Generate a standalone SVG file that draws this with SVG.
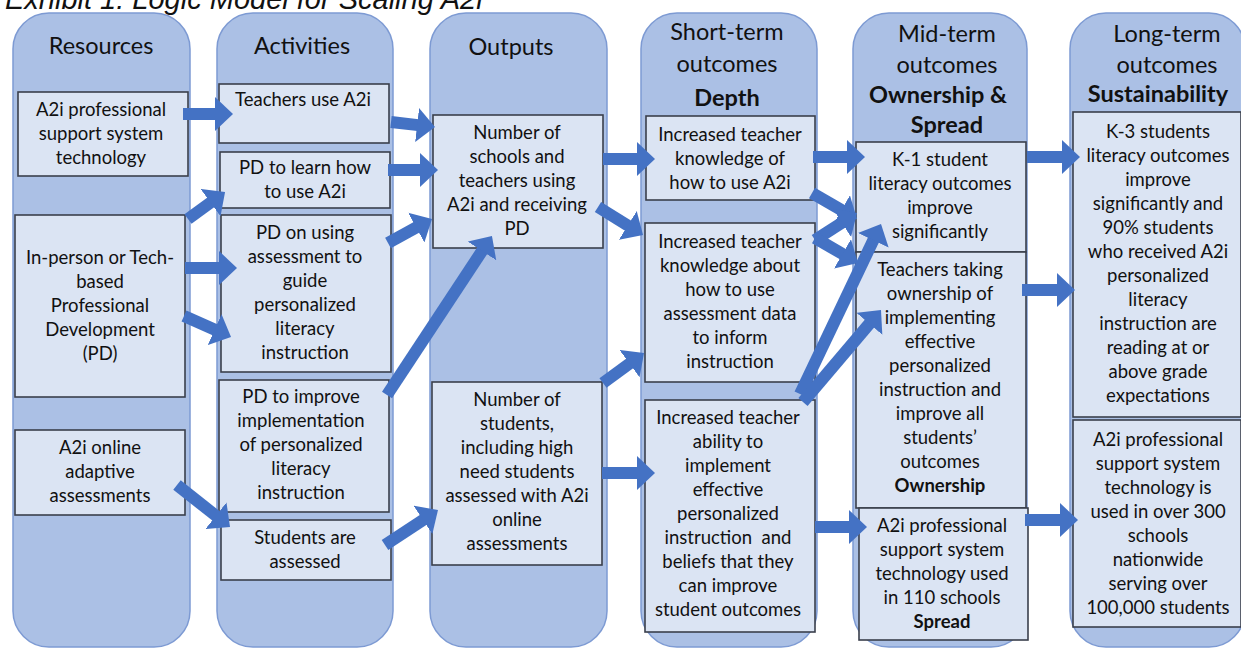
<svg xmlns="http://www.w3.org/2000/svg" width="1241" height="648" viewBox="0 0 1241 648">
  <defs>
    <style>
      .col { fill: #abc0e5; stroke: #7d9ad3; stroke-width: 1.5; }
      .box { fill: #dbe4f3; stroke: #3a3f4b; stroke-width: 1.6; }
      .t { font-family: Lato, "Open Sans", "Liberation Sans", sans-serif; font-size: 18.5px; fill: #111111; text-anchor: middle; }
      .h { font-size: 23.5px; }
      .b { font-weight: bold; }
      .title { font-family: "Liberation Sans", Arial, sans-serif; font-style: italic; font-size: 29px; fill: #111; }
      .conn line { stroke: #4472c4; stroke-width: 12; marker-end: url(#ah); }
    </style>
    <marker id="ah" markerUnits="userSpaceOnUse" markerWidth="18" markerHeight="34" viewBox="0 0 18 34" refX="1" refY="17" orient="auto">
      <path d="M0,0 L18,17 L0,34 z" fill="#4472c4"/>
    </marker>
  </defs>

  <rect width="1241" height="648" fill="#ffffff"/>
  <text class="title" x="5" y="9">Exhibit 1: Logic Model for Scaling A2i</text>

  <!-- column backgrounds -->
  <g id="columns">
    <rect class="col" x="13" y="13" width="177" height="634" rx="36"/>
    <rect class="col" x="217" y="13" width="176" height="634" rx="36"/>
    <rect class="col" x="430" y="13" width="177" height="634" rx="36"/>
    <rect class="col" x="641" y="13" width="176" height="634" rx="36"/>
    <rect class="col" x="853" y="13" width="174" height="634" rx="36"/>
    <rect class="col" x="1070" y="13" width="175" height="634" rx="36"/>
  </g>

  <!-- column headings -->
  <g id="headings">
    <text class="t h" x="101" y="54">Resources</text>
    <text class="t h" x="302" y="54">Activities</text>
    <text class="t h" x="511" y="55">Outputs</text>
    <text class="t h" x="727" y="40">Short-term</text>
    <text class="t h" x="727" y="72">outcomes</text>
    <text class="t h b" x="727" y="106">Depth</text>
    <text class="t h" x="947" y="42">Mid-term</text>
    <text class="t h" x="947" y="73">outcomes</text>
    <text class="t h b" x="938" y="103">Ownership &amp;</text>
    <text class="t h b" x="947" y="133">Spread</text>
    <text class="t h" x="1167" y="42">Long-term</text>
    <text class="t h" x="1167" y="73">outcomes</text>
    <text class="t h b" x="1158" y="102">Sustainability</text>
  </g>

  <!-- Resources -->
  <g id="res-tech">
    <rect class="box" x="18" y="92" width="170" height="84"/>
    <text class="t"><tspan x="101" y="116">A2i professional</tspan><tspan x="101" y="140">support system</tspan><tspan x="101" y="164">technology</tspan></text>
  </g>
  <g id="res-pd">
    <rect class="box" x="15" y="215" width="170" height="182"/>
    <text class="t"><tspan x="100" y="264">In-person or Tech-</tspan><tspan x="100" y="288">based</tspan><tspan x="100" y="312">Professional</tspan><tspan x="100" y="336">Development</tspan><tspan x="100" y="360">(PD)</tspan></text>
  </g>
  <g id="res-assess">
    <rect class="box" x="15" y="430" width="170" height="85"/>
    <text class="t"><tspan x="100" y="454">A2i online</tspan><tspan x="100" y="478">adaptive</tspan><tspan x="100" y="502">assessments</tspan></text>
  </g>

  <!-- Activities -->
  <g id="act-use">
    <rect class="box" x="219" y="84" width="170" height="59"/>
    <text class="t" x="303" y="106">Teachers use A2i</text>
  </g>
  <g id="act-learn">
    <rect class="box" x="220" y="152" width="170" height="56"/>
    <text class="t"><tspan x="305" y="174">PD to learn how</tspan><tspan x="305" y="198">to use A2i</tspan></text>
  </g>
  <g id="act-assess-pd">
    <rect class="box" x="221" y="215" width="170" height="157"/>
    <text class="t"><tspan x="305" y="239">PD on using</tspan><tspan x="305" y="263">assessment to</tspan><tspan x="305" y="287">guide</tspan><tspan x="305" y="311">personalized</tspan><tspan x="305" y="335">literacy</tspan><tspan x="305" y="359">instruction</tspan></text>
  </g>
  <g id="act-improve">
    <rect class="box" x="219" y="380" width="170" height="132"/>
    <text class="t"><tspan x="301" y="403">PD to improve</tspan><tspan x="301" y="427">implementation</tspan><tspan x="301" y="451">of personalized</tspan><tspan x="301" y="475">literacy</tspan><tspan x="301" y="499">instruction</tspan></text>
  </g>
  <g id="act-students">
    <rect class="box" x="221" y="520" width="170" height="60"/>
    <text class="t"><tspan x="305" y="544">Students are</tspan><tspan x="305" y="568">assessed</tspan></text>
  </g>

  <!-- Outputs -->
  <g id="out-schools">
    <rect class="box" x="433" y="115" width="170" height="133"/>
    <text class="t"><tspan x="517" y="139">Number of</tspan><tspan x="517" y="163">schools and</tspan><tspan x="517" y="187">teachers using</tspan><tspan x="517" y="211">A2i and receiving</tspan><tspan x="517" y="235">PD</tspan></text>
  </g>
  <g id="out-students">
    <rect class="box" x="432" y="382" width="170" height="183"/>
    <text class="t"><tspan x="517" y="406">Number of</tspan><tspan x="517" y="430">students,</tspan><tspan x="517" y="454">including high</tspan><tspan x="517" y="478">need students</tspan><tspan x="517" y="502">assessed with A2i</tspan><tspan x="517" y="526">online</tspan><tspan x="517" y="550">assessments</tspan></text>
  </g>

  <!-- Short-term outcomes -->
  <g id="st-knowledge">
    <rect class="box" x="646" y="116" width="169" height="84"/>
    <text class="t"><tspan x="730" y="141">Increased teacher</tspan><tspan x="730" y="165">knowledge of</tspan><tspan x="730" y="189">how to use A2i</tspan></text>
  </g>
  <g id="st-data">
    <rect class="box" x="645" y="223" width="170" height="159"/>
    <text class="t"><tspan x="730" y="248">Increased teacher</tspan><tspan x="730" y="272">knowledge about</tspan><tspan x="730" y="296">how to use</tspan><tspan x="730" y="320">assessment data</tspan><tspan x="730" y="344">to inform</tspan><tspan x="730" y="368">instruction</tspan></text>
  </g>
  <g id="st-ability">
    <rect class="box" x="645" y="400" width="170" height="232"/>
    <text class="t"><tspan x="728" y="424">Increased teacher</tspan><tspan x="728" y="448">ability to</tspan><tspan x="728" y="472">implement</tspan><tspan x="728" y="496">effective</tspan><tspan x="728" y="520">personalized</tspan><tspan x="728" y="544" xml:space="preserve">instruction  and</tspan><tspan x="728" y="568">beliefs that they</tspan><tspan x="728" y="592">can improve</tspan><tspan x="728" y="616">student outcomes</tspan></text>
  </g>

  <!-- Mid-term outcomes -->
  <g id="mt-literacy">
    <rect class="box" x="856" y="142" width="170" height="110"/>
    <text class="t"><tspan x="940" y="166">K-1 student</tspan><tspan x="940" y="190">literacy outcomes</tspan><tspan x="940" y="214">improve</tspan><tspan x="940" y="238">significantly</tspan></text>
  </g>
  <g id="mt-ownership">
    <rect class="box" x="856" y="252" width="170" height="256"/>
    <text class="t"><tspan x="940" y="276">Teachers taking</tspan><tspan x="940" y="300">ownership of</tspan><tspan x="940" y="324">implementing</tspan><tspan x="940" y="348">effective</tspan><tspan x="940" y="372">personalized</tspan><tspan x="940" y="396">instruction and</tspan><tspan x="940" y="420">improve all</tspan><tspan x="940" y="444">students’</tspan><tspan x="940" y="468">outcomes</tspan><tspan x="940" y="492" class="b">Ownership</tspan></text>
  </g>
  <g id="mt-spread">
    <rect class="box" x="859" y="508" width="169" height="132"/>
    <text class="t"><tspan x="942" y="532">A2i professional</tspan><tspan x="942" y="556">support system</tspan><tspan x="942" y="580">technology used</tspan><tspan x="942" y="604">in 110 schools</tspan><tspan x="942" y="628" class="b">Spread</tspan></text>
  </g>

  <!-- Long-term outcomes -->
  <g id="lt-literacy">
    <rect class="box" x="1073" y="112" width="168" height="305"/>
    <text class="t"><tspan x="1158" y="138">K-3 students</tspan><tspan x="1158" y="162">literacy outcomes</tspan><tspan x="1158" y="186">improve</tspan><tspan x="1158" y="210">significantly and</tspan><tspan x="1158" y="234">90% students</tspan><tspan x="1158" y="258">who received A2i</tspan><tspan x="1158" y="282">personalized</tspan><tspan x="1158" y="306">literacy</tspan><tspan x="1158" y="330">instruction are</tspan><tspan x="1158" y="354">reading at or</tspan><tspan x="1158" y="378">above grade</tspan><tspan x="1158" y="402">expectations</tspan></text>
  </g>
  <g id="lt-scale">
    <rect class="box" x="1073" y="420" width="168" height="207"/>
    <text class="t"><tspan x="1158" y="446">A2i professional</tspan><tspan x="1158" y="470">support system</tspan><tspan x="1158" y="494">technology is</tspan><tspan x="1158" y="518">used in over 300</tspan><tspan x="1158" y="542">schools</tspan><tspan x="1158" y="566">nationwide</tspan><tspan x="1158" y="590">serving over</tspan><tspan x="1158" y="614">100,000 students</tspan></text>
  </g>

  <!-- connectors: each line ends where its arrowhead begins -->
  <g id="connectors" class="conn">
    <line x1="183" y1="114" x2="216" y2="114"/>
    <line x1="188" y1="219" x2="211.3" y2="202"/>
    <line x1="185" y1="268" x2="220" y2="268"/>
    <line x1="184" y1="316" x2="215.5" y2="330.1"/>
    <line x1="177" y1="485" x2="216.7" y2="516.4"/>
    <line x1="391" y1="122" x2="418.1" y2="125.1"/>
    <line x1="388" y1="170" x2="421" y2="170"/>
    <line x1="388" y1="243" x2="417.1" y2="227.1"/>
    <line x1="387" y1="395" x2="482.6" y2="250.1"/>
    <line x1="385" y1="545" x2="423.8" y2="519.4"/>
    <line x1="603" y1="159" x2="638" y2="159"/>
    <line x1="598" y1="207" x2="628.6" y2="226"/>
    <line x1="603" y1="383" x2="630.3" y2="363"/>
    <line x1="602" y1="473" x2="638" y2="473"/>
    <line x1="813" y1="157" x2="848" y2="157"/>
    <line x1="812" y1="193" x2="842.3" y2="210.5"/>
    <line x1="815" y1="240" x2="842.7" y2="222.2"/>
    <line x1="815" y1="238" x2="843.3" y2="254.4"/>
    <line x1="800" y1="394" x2="873.7" y2="239.4"/>
    <line x1="803" y1="402" x2="870" y2="323"/>
    <line x1="815" y1="527" x2="850" y2="527"/>
    <line x1="1027" y1="157" x2="1063" y2="157"/>
    <line x1="1022" y1="290" x2="1058" y2="290"/>
    <line x1="1025" y1="520" x2="1061" y2="520"/>
  </g>
</svg>
